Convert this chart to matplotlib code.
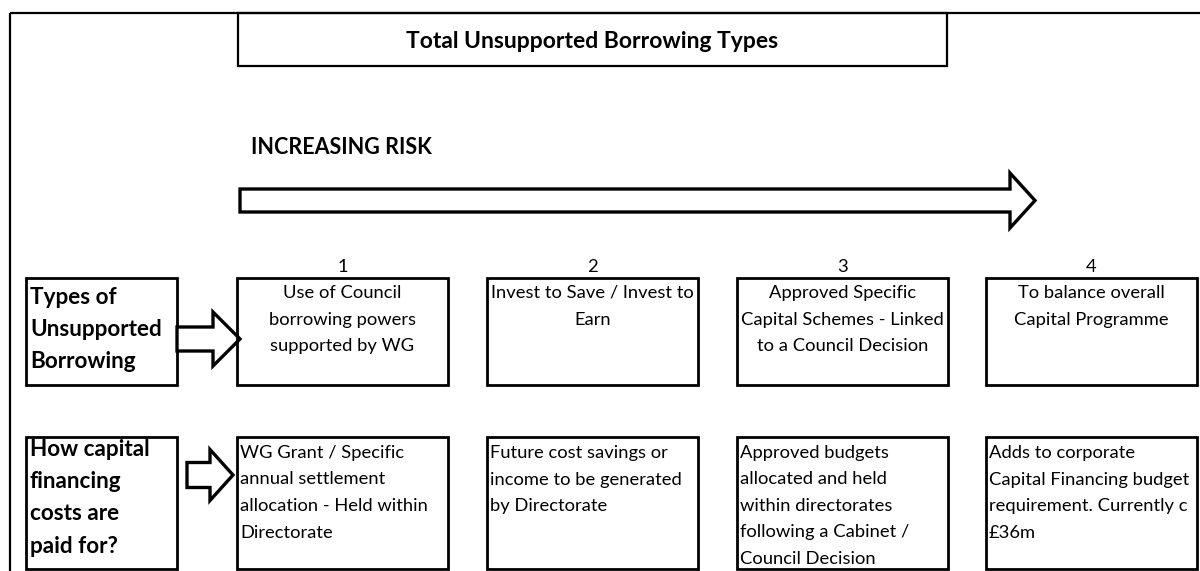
import matplotlib.pyplot as plt
from matplotlib.patches import Rectangle, Polygon

plt.rcParams['font.family'] = ['Lato', 'DejaVu Sans']

# texts of the diagram
title = 'Total Unsupported Borrowing Types'
risk_label = 'INCREASING RISK'
step_numbers = ['1', '2', '3', '4']
row_labels = ['Types of\nUnsupported\nBorrowing',
              'How capital\nfinancing\ncosts are\npaid for?']
borrowing_types = ['Use of Council\nborrowing powers\nsupported by WG',
                   'Invest to Save / Invest to\nEarn',
                   'Approved Specific\nCapital Schemes - Linked\nto a Council Decision',
                   'To balance overall\nCapital Programme']
financing = ['WG Grant / Specific\nannual settlement\nallocation - Held within\nDirectorate',
             'Future cost savings or\nincome to be generated\nby Directorate',
             'Approved budgets\nallocated and held\nwithin directorates\nfollowing a Cabinet /\nCouncil Decision',
             'Adds to corporate\nCapital Financing budget\nrequirement. Currently c\n£36m']

fig = plt.figure(figsize=(12, 5.71), dpi=100)
ax = fig.add_axes([0, 0, 1, 1])
ax.set_xlim(0, 1200)
ax.set_ylim(571, 0)
ax.axis('off')

# outer frame (runs off the right and bottom)
ax.add_patch(Rectangle((10, 13), 1300, 700, fill=False, lw=1.6, ec='black'))

# title box
ax.add_patch(Rectangle((238, 13), 709, 53, fill=False, lw=1.6, ec='black'))
ax.text(592, 41, title, ha='center', va='center', fontsize=16.5, fontweight='bold')

ax.text(251, 147, risk_label, ha='left', va='center', fontsize=15.5, fontweight='bold')


def block_arrow(x0, x1, xh, yc, shaft, head):
    pts = [(x0, yc - shaft / 2), (xh, yc - shaft / 2), (xh, yc - head / 2),
           (x1, yc), (xh, yc + head / 2), (xh, yc + shaft / 2), (x0, yc + shaft / 2)]
    ax.add_patch(Polygon(pts, closed=True, fc='white', ec='black', lw=2.4,
                         joinstyle='miter'))


# big risk arrow
block_arrow(240, 1035, 1010, 200.5, 23, 55)

box_left = [237, 487, 737, 986]
box_w = 211
row1_top, row1_bot = 278, 385
row2_top, row2_bot = 437, 569

# row labels
for lbl, top, bot, first in zip(row_labels, [row1_top, row2_top],
                                [row1_bot, row2_bot], [297, 449]):
    ax.add_patch(Rectangle((26, top), 151, bot - top, fill=False, lw=2, ec='black'))
    for i, line in enumerate(lbl.split('\n')):
        ax.text(30, first + i * 32.5, line, ha='left', va='center',
                fontsize=16.2, fontweight='bold')

block_arrow(177, 240, 213, 339, 24, 54)
block_arrow(187, 233, 210, 475, 25, 51)

for i in range(4):
    x = box_left[i]
    ax.text(x + box_w / 2, 267, step_numbers[i], ha='center', va='center', fontsize=13.2)
    ax.add_patch(Rectangle((x, row1_top), box_w, row1_bot - row1_top,
                           fill=False, lw=2, ec='black'))
    ax.add_patch(Rectangle((x, row2_top), box_w, row2_bot - row2_top,
                           fill=False, lw=2, ec='black'))
    for j, line in enumerate(borrowing_types[i].split('\n')):
        ax.text(x + box_w / 2, 293 + j * 26.7, line, ha='center', va='center',
                fontsize=13.2)
    for j, line in enumerate(financing[i].split('\n')):
        ax.text(x + 3, 453 + j * 26.5, line, ha='left', va='center', fontsize=13.2)

fig.savefig('out.png', dpi=100)
